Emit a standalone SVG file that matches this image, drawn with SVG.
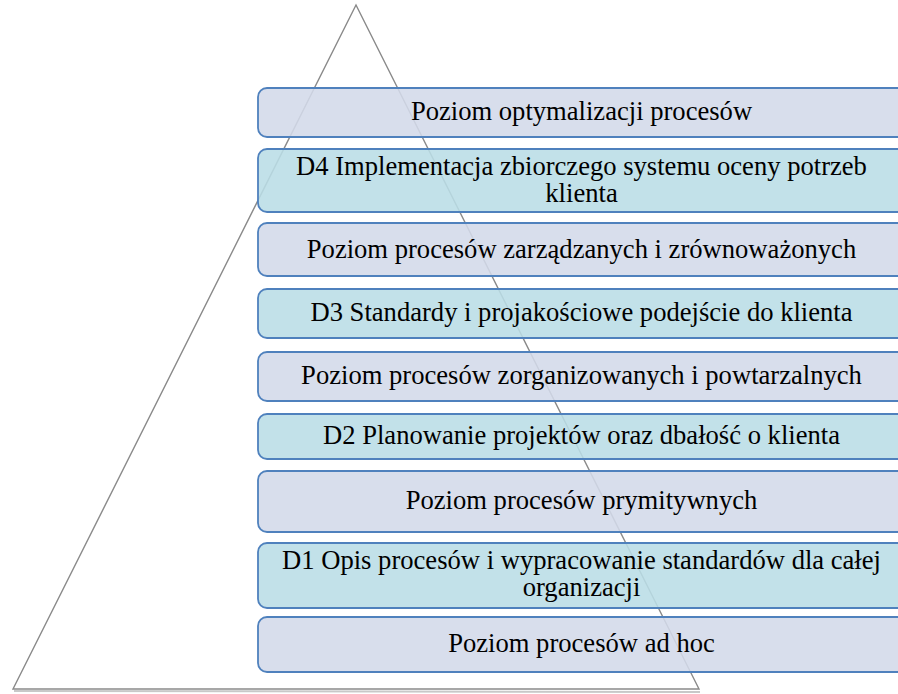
<svg xmlns="http://www.w3.org/2000/svg" width="898" height="694" viewBox="0 0 898 694">
  <style>
    .tri { fill: none; stroke: #8a8a8a; stroke-width: 1.4; stroke-linejoin: miter; }
    .tri-shadow { fill: none; stroke: #c8c8c8; stroke-width: 2; }
    .box { stroke: #4f81bd; stroke-width: 1.8; fill-opacity: 0.88; }
    .lvl { fill: #d3d9e9; }
    .act { fill: #b9dde6; }
    .lbl { font-size: 26.6px; fill: #000; text-anchor: middle; }
  </style>

  <!-- background pyramid outline -->
  <g id="pyramid">
    <path class="tri-shadow" d="M14 691 L700 692"/>
    <path class="tri" d="M356 5 L13 689 L699 689 Z"/>
  </g>

  <!-- levels, listed from the apex down to the base -->
  <g font-family="'Liberation Serif', 'Times New Roman', 'DejaVu Serif', serif">
    <g id="level-optimisation">
      <rect class="box lvl" x="258" y="88" width="662" height="49" rx="9"/>
      <text class="lbl" x="581.5" y="120">Poziom optymalizacji procesów</text>
    </g>
    <g id="d4">
      <rect class="box act" x="258" y="149" width="662" height="63" rx="9"/>
      <text class="lbl" x="581.5" y="174.5">D4 Implementacja zbiorczego systemu oceny potrzeb</text>
      <text class="lbl" x="581.5" y="201.5">klienta</text>
    </g>
    <g id="level-managed">
      <rect class="box lvl" x="258" y="223" width="662" height="53" rx="9"/>
      <text class="lbl" x="581.5" y="257.5">Poziom procesów zarządzanych i zrównoważonych</text>
    </g>
    <g id="d3">
      <rect class="box act" x="258" y="289" width="662" height="49" rx="9"/>
      <text class="lbl" x="581.5" y="321">D3 Standardy i projakościowe podejście do klienta</text>
    </g>
    <g id="level-organised">
      <rect class="box lvl" x="258" y="352" width="662" height="49" rx="9"/>
      <text class="lbl" x="581.5" y="384">Poziom procesów zorganizowanych i powtarzalnych</text>
    </g>
    <g id="d2">
      <rect class="box act" x="258" y="414" width="662" height="45" rx="9"/>
      <text class="lbl" x="581.5" y="444">D2 Planowanie projektów oraz dbałość o klienta</text>
    </g>
    <g id="level-primitive">
      <rect class="box lvl" x="258" y="471" width="662" height="61" rx="9"/>
      <text class="lbl" x="581.5" y="509">Poziom procesów prymitywnych</text>
    </g>
    <g id="d1">
      <rect class="box act" x="258" y="543" width="662" height="65" rx="9"/>
      <text class="lbl" x="581.5" y="568.5">D1 Opis procesów i wypracowanie standardów dla całej</text>
      <text class="lbl" x="581.5" y="595.5">organizacji</text>
    </g>
    <g id="level-adhoc">
      <rect class="box lvl" x="258" y="617" width="662" height="55" rx="9"/>
      <text class="lbl" x="581.5" y="652">Poziom procesów ad hoc</text>
    </g>
  </g>

  <g id="connectors"/>
</svg>
